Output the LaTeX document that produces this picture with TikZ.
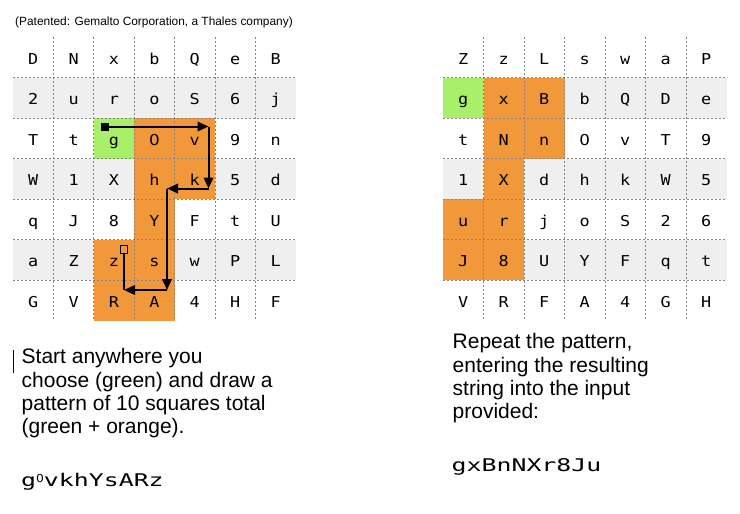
\documentclass[tikz,border=0pt]{standalone}
\usepackage{fontspec}
\setmainfont{Liberation Sans}
\newfontfamily\gridfont[FakeStretch=1.12]{DejaVu Sans Mono}
\newfontfamily\codefont[FakeStretch=1.42]{DejaVu Sans Mono}
\newfontfamily\zerofont[FakeStretch=1.12]{DejaVu Sans}
\usetikzlibrary{arrows.meta}
\definecolor{cellorange}{HTML}{F0983A}
\definecolor{cellgreen}{HTML}{A8F06A}
\definecolor{rowgray}{HTML}{EFEFEF}
\definecolor{gridline}{HTML}{858585}
\newcommand\zr{{\zerofont 0}}
\newcommand\smallzr{\raisebox{4pt}{\zerofont\fontsize{11}{11}\selectfont 0}}
\begin{document}
\begin{tikzpicture}[x=1pt,y=-1pt,
  gridrule/.style={draw=gridline, line width=0.8pt, dash pattern=on 2pt off 2pt},
  cellletter/.style={font=\gridfont\fontsize{15}{15}\selectfont, inner sep=0pt, anchor=base},
  prose/.style={font=\fontsize{21}{23}\selectfont, inner sep=0pt, anchor=base west},
  header/.style={font=\fontsize{11.9}{14}\selectfont, inner sep=0pt, anchor=base west},
  codestr/.style={font=\codefont\fontsize{17.5}{18}\selectfont, inner sep=0pt, anchor=base west},
  pathline/.style={line width=2pt, -{Triangle[length=11pt,width=9.5pt]}},
  plainline/.style={line width=2pt},
]
\useasboundingbox (0,0) rectangle (740,514);

% ---------------- left grid ----------------
\def\XA{13}\def\WA{40.4}\def\YO{37}\def\HH{40.5}
\foreach \r in {2,4,6}
  \fill[rowgray] (\XA,{\YO+(\r-1)*\HH}) rectangle ++(7*\WA,\HH);
% green cell
\fill[cellgreen] ({\XA+2*\WA},{\YO+2*\HH}) rectangle ++(\WA,\HH);
% orange cells (col,row)
\foreach \c/\r in {4/3,5/3,4/4,5/4,4/5,3/6,4/6,3/7,4/7}
  \fill[cellorange] ({\XA+(\c-1)*\WA},{\YO+(\r-1)*\HH}) rectangle ++(\WA,\HH);
% dashed rules
\foreach \r in {1,...,6}
  \draw[gridrule] (\XA,{\YO+\r*\HH}) -- ++(7*\WA,0);
\foreach \c in {1,...,6}
  \draw[gridrule] ({\XA+\c*\WA},\YO) -- ++(0,7*\HH);
% letters
\foreach \row [count=\r] in {{D,N,x,b,Q,e,B},{2,u,r,o,S,6,j},{T,t,g,\zr,v,9,n},{W,1,X,h,k,5,d},{q,J,8,Y,F,t,U},{a,Z,z,s,w,P,L},{G,V,R,A,4,H,F}}
  \foreach \ch [count=\c] in \row
    \node[cellletter] (A-\r-\c) at ({\XA+(\c-0.5)*\WA},{\YO+(\r-0.5)*\HH+6.8}) {\ch};

% ---------------- right grid ----------------
\def\XB{443}\def\WB{40.5}
\foreach \r in {2,4,6}
  \fill[rowgray] (\XB,{\YO+(\r-1)*\HH}) rectangle ++(7*\WB,\HH);
\fill[cellgreen] (\XB,{\YO+1*\HH}) rectangle ++(\WB,\HH);
\foreach \c/\r in {2/2,3/2,2/3,3/3,2/4,1/5,2/5,1/6,2/6}
  \fill[cellorange] ({\XB+(\c-1)*\WB},{\YO+(\r-1)*\HH}) rectangle ++(\WB,\HH);
\foreach \r in {1,...,6}
  \draw[gridrule] (\XB,{\YO+\r*\HH}) -- ++(7*\WB,0);
\foreach \c in {1,...,6}
  \draw[gridrule] ({\XB+\c*\WB},\YO) -- ++(0,7*\HH);
\foreach \row [count=\r] in {{Z,z,L,s,w,a,P},{g,x,B,b,Q,D,e},{t,N,n,\zr,v,T,9},{1,X,d,h,k,W,5},{u,r,j,o,S,2,6},{J,8,U,Y,F,q,t},{V,R,F,A,4,G,H}}
  \foreach \ch [count=\c] in \row
    \node[cellletter] (B-\r-\c) at ({\XB+(\c-0.5)*\WB},{\YO+(\r-0.5)*\HH+6.8}) {\ch};

% ---------------- pattern path ----------------
\node[fill=black, minimum size=8pt, inner sep=0pt] (ps) at (105,126.5) {};
\coordinate (c1) at (208.5,126.5);
\coordinate (c2) at (208.5,188.5);
\coordinate (c3) at (167,188.5);
\coordinate (c4) at (167,290);
\coordinate (c5) at (124,290);
\node[draw=black, line width=1.4pt, minimum size=7.5pt, inner sep=0pt] (pe) at (124,249.5) {};
\draw[pathline] (ps.center) -- (c1);
\draw[pathline] (c1) -- (c2);
\draw[pathline] (c2) -- (c3);
\draw[pathline] (c3) -- (c4);
\draw[pathline] (c4) -- (c5);
\draw[plainline] (c5) -- (pe.south);

% ---------------- texts ----------------
\node[header] (hd) at (15,26) {(Patented: Gemalto Corporation, a Thales company)};

\draw[line width=1.3pt] (13.5,350) -- (13.5,373);
\node[prose] (l1) at (21.5,363.5) {Start anywhere you};
\node[prose] (l2) at (21.5,387) {choose (green) and draw a};
\node[prose] (l3) at (21.5,410.3) {pattern of 10 squares total};
\node[prose] (l4) at (21.5,433.6) {(green + orange).};

\node[prose] (r1) at (452.5,348.5) {Repeat the pattern,};
\node[prose] (r2) at (452.5,372) {entering the resulting};
\node[prose] (r3) at (452.5,395.3) {string into the input};
\node[prose] (r4) at (452.5,418.6) {provided:};

\node[codestr] (s1) at (21,486) {g\smallzr vkhYsARz};
\node[codestr] (s2) at (451.5,471) {gxBnNXr8Ju};
\end{tikzpicture}
\end{document}
